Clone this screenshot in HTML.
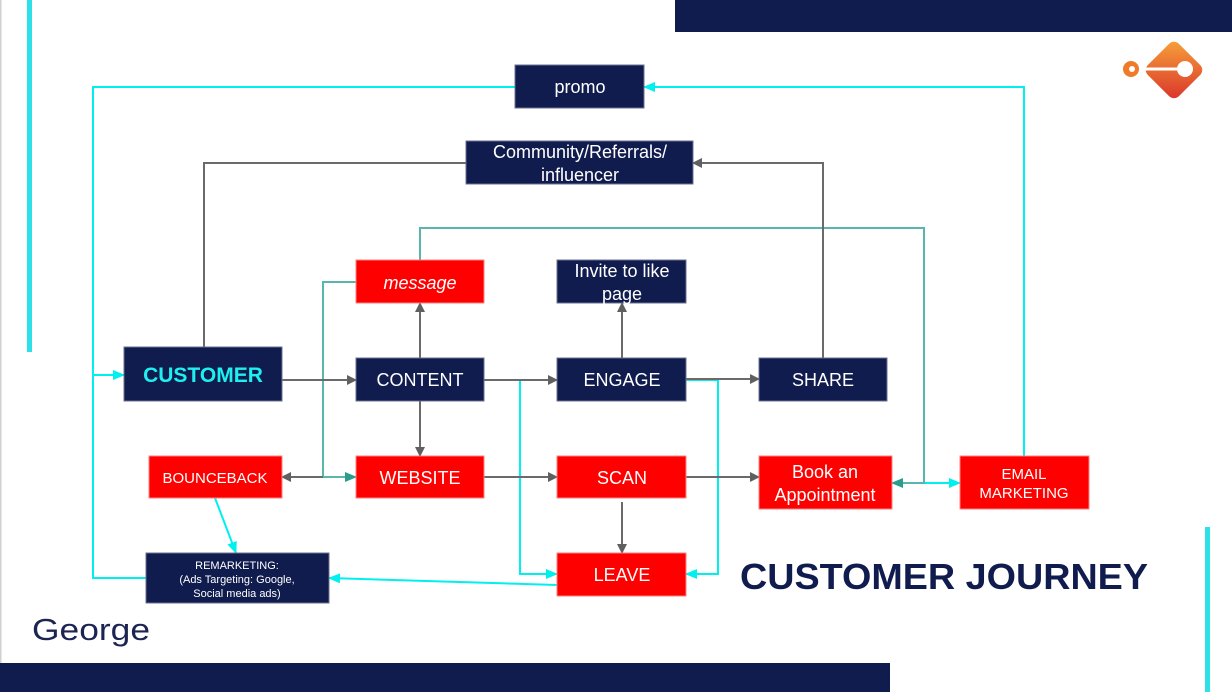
<!DOCTYPE html>
<html><head><meta charset="utf-8"><style>
html,body{margin:0;padding:0;background:#fff;}
body{width:1232px;height:692px;overflow:hidden;position:relative;font-family:"Liberation Sans",Arial,sans-serif;}
</style></head><body>
<svg width="1232" height="692" viewBox="0 0 1232 692" xmlns="http://www.w3.org/2000/svg" style="position:absolute;left:0;top:0">
<defs>
<marker id="ag" markerWidth="10" markerHeight="10" refX="9" refY="5" orient="auto" markerUnits="userSpaceOnUse"><path d="M0,0 L10,5 L0,10 z" fill="#606060"/></marker>
<marker id="agr" markerWidth="10" markerHeight="10" refX="1" refY="5" orient="auto" markerUnits="userSpaceOnUse"><path d="M10,0 L0,5 L10,10 z" fill="#606060"/></marker>
<marker id="ac" markerWidth="12" markerHeight="10" refX="11" refY="5" orient="auto" markerUnits="userSpaceOnUse"><path d="M0,0 L12,5 L0,10 z" fill="#00f0f0"/></marker>
<marker id="at" markerWidth="12" markerHeight="10" refX="11" refY="5" orient="auto" markerUnits="userSpaceOnUse"><path d="M0,0 L12,5 L0,10 z" fill="#2a9d8f"/></marker>
<linearGradient id="og" x1="0" y1="0" x2="1" y2="1"><stop offset="0" stop-color="#f7a23a"/><stop offset="1" stop-color="#d9332a"/></linearGradient>
</defs>
<rect x="0" y="0" width="1.5" height="692" fill="#d0d0d0"/>
<rect x="27" y="0" width="5" height="352" fill="#2ee0e8"/>
<rect x="675" y="0" width="557" height="32" fill="#111c4e"/>
<rect x="0" y="663" width="890" height="29" fill="#111c4e"/>
<rect x="1205" y="527" width="5" height="165" fill="#2ee0e8"/>
<g transform="translate(1174,70) rotate(45)"><rect x="-22" y="-22" width="44" height="44" rx="7" fill="url(#og)"/></g>
<circle cx="1131" cy="69" r="8" fill="#f07a2a"/><circle cx="1132" cy="69" r="3" fill="#fff"/>
<rect x="1143" y="67.5" width="40" height="3" fill="#fff"/>
<circle cx="1185" cy="69" r="8" fill="#fff"/>

<g fill="none" stroke-width="2">
<polyline points="146,578 93,578 93,87 515,87" stroke="#00f0f0"/>
<line x1="93" y1="375" x2="124" y2="375" stroke="#00f0f0" marker-end="url(#ac)"/>
<polyline points="1024,456 1024,87 644,87" stroke="#00f0f0" marker-end="url(#ac)"/>
<polyline points="484,380 520,380 520,574 557,574" stroke="#00f0f0" marker-end="url(#ac)"/>
<polyline points="686,380 718,380 718,574 686,574" stroke="#00f0f0" marker-end="url(#ac)"/>
<line x1="557" y1="585" x2="329" y2="578" stroke="#00f0f0" marker-end="url(#ac)"/>
<line x1="215" y1="498" x2="236" y2="553" stroke="#00f0f0" marker-end="url(#ac)"/>
<line x1="924" y1="483" x2="960" y2="483" stroke="#00f0f0" marker-end="url(#ac)"/>
<polyline points="420,260 420,228 924,228 924,483 892,483" stroke="#5ab5ad" marker-end="url(#at)"/>
<polyline points="356,282 323,282 323,477 356,477" stroke="#5ab5ad" marker-end="url(#at)"/>
<g stroke="#6a6a6a">
<polyline points="204,347 204,163 466,163"/>
<polyline points="823,358 823,163 693,163" marker-end="url(#ag)"/>
<line x1="282" y1="380" x2="356" y2="380" marker-end="url(#ag)"/>
<line x1="484" y1="380" x2="557" y2="380" marker-end="url(#ag)"/>
<line x1="686" y1="379" x2="759" y2="379" marker-end="url(#ag)"/>
<line x1="420" y1="358" x2="420" y2="303" marker-end="url(#ag)"/>
<line x1="420" y1="401" x2="420" y2="456" marker-end="url(#ag)"/>
<line x1="622" y1="358" x2="622" y2="303" marker-end="url(#ag)"/>
<line x1="282" y1="477" x2="323" y2="477" marker-start="url(#agr)"/>
<line x1="484" y1="477" x2="557" y2="477" marker-end="url(#ag)"/>
<line x1="686" y1="477" x2="759" y2="477" marker-end="url(#ag)"/>
<line x1="622" y1="502" x2="622" y2="553" marker-end="url(#ag)"/>
</g>
</g>

<g stroke="#6a7090" stroke-width="1">
<rect x="515" y="65" width="129" height="43" fill="#111c4e"/>
<rect x="466" y="141" width="227" height="43" fill="#111c4e"/>
<rect x="356" y="260" width="128" height="43" fill="#ff0000" stroke="#ff8080"/>
<rect x="557" y="260" width="129" height="43" fill="#111c4e"/>
<rect x="124" y="347" width="158" height="54" fill="#111c4e"/>
<rect x="356" y="358" width="128" height="43" fill="#111c4e"/>
<rect x="557" y="358" width="129" height="43" fill="#111c4e"/>
<rect x="759" y="358" width="128" height="43" fill="#111c4e"/>
<rect x="149" y="456" width="133" height="42" fill="#ff0000" stroke="#ff8080"/>
<rect x="356" y="456" width="128" height="42" fill="#ff0000" stroke="#ff8080"/>
<rect x="557" y="456" width="129" height="42" fill="#ff0000" stroke="#ff8080"/>
<rect x="759" y="456" width="133" height="53" fill="#ff0000" stroke="#ff8080"/>
<rect x="960" y="456" width="129" height="53" fill="#ff0000" stroke="#ff8080"/>
<rect x="146" y="553" width="183" height="50" fill="#111c4e"/>
<rect x="557" y="553" width="129" height="43" fill="#ff0000" stroke="#ff8080"/>
</g>
<g fill="#fff" font-family="Liberation Sans,Arial,sans-serif" text-anchor="middle" font-size="18">
<text x="580" y="93">promo</text>
<text x="580" y="158">Community/Referrals/</text>
<text x="580" y="181">influencer</text>
<text x="420" y="289" font-style="italic">message</text>
<text x="622" y="277">Invite to like</text>
<text x="622" y="300">page</text>
<text x="203" y="382" font-weight="bold" font-size="21" fill="#1ef0f0">CUSTOMER</text>
<text x="420" y="386">CONTENT</text>
<text x="622" y="386">ENGAGE</text>
<text x="823" y="386">SHARE</text>
<text x="215" y="483" font-size="15">BOUNCEBACK</text>
<text x="420" y="484">WEBSITE</text>
<text x="622" y="484">SCAN</text>
<text x="825" y="478">Book an</text>
<text x="825" y="501">Appointment</text>
<text x="1024" y="479" font-size="15">EMAIL</text>
<text x="1024" y="498" font-size="15">MARKETING</text>
<text x="237" y="569" font-size="11">REMARKETING:</text>
<text x="237" y="583" font-size="11">(Ads Targeting: Google,</text>
<text x="237" y="597" font-size="11">Social media ads)</text>
<text x="622" y="581">LEAVE</text>
</g>
<text x="740" y="589" font-family="Liberation Sans,Arial,sans-serif" font-weight="bold" font-size="36" fill="#111c4e" textLength="408" lengthAdjust="spacingAndGlyphs">CUSTOMER JOURNEY</text>
<text x="32" y="640" font-family="Liberation Sans,Arial,sans-serif" font-size="31" fill="#1c2452" textLength="118" lengthAdjust="spacingAndGlyphs">George</text>
</svg>
</body></html>
